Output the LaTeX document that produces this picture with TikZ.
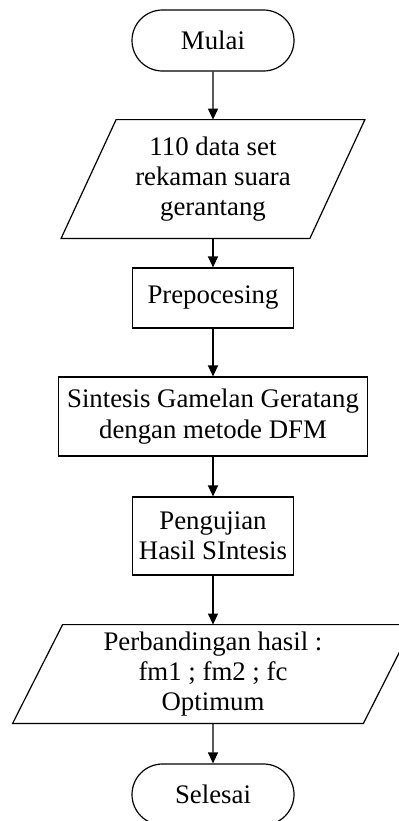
\documentclass[tikz,border=0pt]{standalone}
\usepackage{fontspec}
\setmainfont{Liberation Serif}
\usetikzlibrary{shapes.misc,arrows.meta}
\begin{document}
\begin{tikzpicture}[x=0.5pt,y=-0.5pt,
  txt/.style={align=center, font=\fontsize{13.4}{15.2}\selectfont, inner sep=0pt},
  base/.style={txt, draw=black, line width=0.6pt},
  term/.style={base, rounded rectangle, minimum width=81pt, minimum height=30.5pt},
  proc/.style={base, rectangle},
  io/.style={txt},
  edge/.style={line width=0.6pt, line join=miter},
  flow/.style={line width=0.6pt, -{Triangle[width=5pt,length=5.5pt]}}
]
\useasboundingbox (0,0) rectangle (399,821);
\clip (0,0) rectangle (399,821);
\fill[white] (0,0) rectangle (399,821);

\node[term] (start) at (213,40.5) {Mulai};
\node[io, minimum width=124pt, minimum height=59pt] (data) at (213,179) {110 data set\\rekaman suara\\gerantang};
\draw[edge] ([xshift=-13.75pt]data.south west) -- ([xshift=13.75pt]data.north west) -- ([xshift=13.75pt]data.north east) -- ([xshift=-13.75pt]data.south east) -- cycle;
\node[proc, minimum width=80.5pt, minimum height=30pt] (pre) at (213,298) {Prepocesing};
\node[proc, minimum width=154.5pt, minimum height=39.5pt] (sin) at (213,416.5) {Sintesis Gamelan Geratang\\dengan metode DFM};
\node[proc, minimum width=80.5pt, minimum height=39pt] (uji) at (213,536) {Pengujian\\Hasil SIntesis};
\node[io, minimum width=175pt, minimum height=49pt] (hasil) at (213,674) {Perbandingan hasil :\\fm1 ; fm2 ; fc\\Optimum};
\draw[edge] ([xshift=-12.5pt]hasil.south west) -- ([xshift=12.5pt]hasil.north west) -- ([xshift=12.5pt]hasil.north east) -- ([xshift=-12.5pt]hasil.south east) -- cycle;
\node[term] (end) at (213,794.5) {Selesai};

\draw[flow] (start) -- (data);
\draw[flow] (data) -- (pre);
\draw[flow] (pre) -- (sin);
\draw[flow] (sin) -- (uji);
\draw[flow] (uji) -- (hasil);
\draw[flow] (hasil) -- (end);
\end{tikzpicture}
\end{document}
